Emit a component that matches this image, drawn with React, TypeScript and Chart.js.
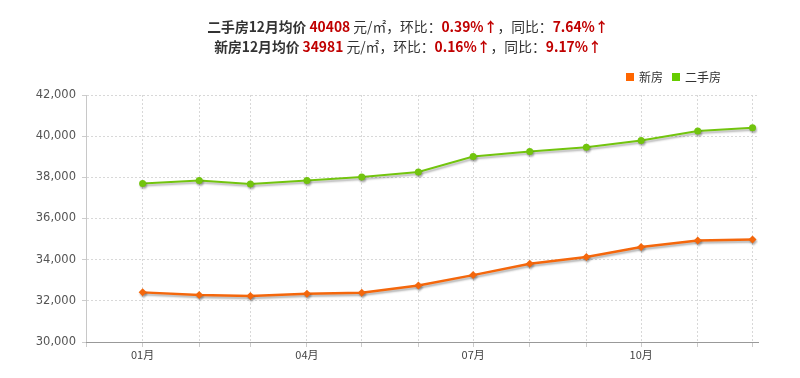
import React, { useEffect, useRef } from "react";
import { Chart, registerables } from "chart.js";

Chart.register(...registerables);

const months = ["2017-01", "2017-02", "2017-03", "2017-04", "2017-05", "2017-06", "2017-07", "2017-08", "2017-09", "2017-10", "2017-11", "2017-12"];
const newHouse = [32411, 32281, 32232, 32345, 32394, 32750, 33250, 33800, 34125, 34610, 34933, 34981];
const secondHand = [37700, 37846, 37681, 37846, 38021, 38264, 39011, 39254, 39462, 39787, 40254, 40408];
const seriesNames = ["新房", "二手房"];
const yTicks = [30000, 32000, 34000, 36000, 38000, 40000, 42000];
const labeledMonths = ["01", "04", "07", "10"];
const axisStart = "2016-12";
const axisEndDay = "2017-12-04";

const DAY = 86400000;
const base = Date.UTC(2017, 0, 1);
const toDay = (s: string) => {
  const p = s.split("-").map(Number);
  return (Date.UTC(p[0], p[1] - 1, p[2] || 1) - base) / DAY;
};

const ORANGE = "#f4670c";
const GREEN = "#72c40e";

export default function App() {
  const ref = useRef<HTMLCanvasElement>(null);
  useEffect(() => {
    document.body.style.margin = "0";
    const canvas = ref.current!;
    const tickMonths = [axisStart, ...months];
    const shadow = {
      id: "lineShadow",
      beforeDatasetDraw(chart: any) {
        const c = chart.ctx;
        c.save();
        c.shadowColor = "rgba(0,0,0,0.3)";
        c.shadowBlur = 2;
        c.shadowOffsetX = 1;
        c.shadowOffsetY = 2;
      },
      afterDatasetDraw(chart: any) {
        chart.ctx.restore();
      },
    };
    const solidAxis = {
      id: "solidAxis",
      afterDraw(chart: any) {
        const c = chart.ctx;
        const a = chart.chartArea;
        c.save();
        c.setLineDash([]);
        c.strokeStyle = "#999";
        c.lineWidth = 1;
        c.beginPath();
        c.moveTo(a.left, Math.round(a.bottom) + 0.5);
        c.lineTo(a.right, Math.round(a.bottom) + 0.5);
        c.stroke();
        c.restore();
      },
    };
    const chart = new Chart(canvas, {
      type: "line",
      data: {
        datasets: [
          {
            label: seriesNames[0],
            data: months.map((m, i) => ({ x: toDay(m), y: newHouse[i] })),
            borderColor: ORANGE,
            backgroundColor: ORANGE,
            borderWidth: 2.5,
            pointStyle: "rectRot",
            pointRadius: 4,
            pointBorderWidth: 0,
            tension: 0,
          },
          {
            label: seriesNames[1],
            data: months.map((m, i) => ({ x: toDay(m), y: secondHand[i] })),
            borderColor: GREEN,
            backgroundColor: GREEN,
            borderWidth: 2,
            pointStyle: "circle",
            pointRadius: 3.5,
            pointBorderWidth: 0,
            tension: 0,
          },
        ],
      },
      options: {
        animation: false,
        responsive: false,
        layout: { padding: { top: 95, right: 42, left: 0, bottom: 0 } },
        plugins: { legend: { display: false }, tooltip: { enabled: false } },
        scales: {
          x: {
            type: "linear",
            min: toDay(axisStart),
            max: toDay(axisEndDay),
            afterBuildTicks(scale: any) {
              scale.ticks = tickMonths.map((m) => ({ value: toDay(m) }));
            },
            afterFit(scale: any) {
              scale.height = 36;
            },
            ticks: {
              autoSkip: false,
              maxRotation: 0,
              padding: 1,
              color: "#444",
              font: { size: 11, family: "'Noto Sans CJK SC', 'DejaVu Sans', sans-serif" },
              callback(_v: any, idx: number) {
                const m = tickMonths[idx];
                const mm = m.split("-")[1];
                return idx > 0 && labeledMonths.includes(mm) ? mm + "月" : "";
              },
            },
            grid: {
              color: "#d8d8d8",
              lineWidth: 1,
              tickLength: 5,
              tickColor: "#ccc",
              drawOnChartArea: true,
            },
            border: { color: "#999", width: 1, dash: [2, 2] },
          },
          y: {
            min: 30000,
            max: 42000,
            afterBuildTicks(scale: any) {
              scale.ticks = yTicks.map((v) => ({ value: v }));
            },
            afterFit(scale: any) {
              scale.width = 86;
            },
            ticks: {
              padding: 6,
              color: "#555",
              font: { size: 11.5, family: "'DejaVu Sans', sans-serif" },
              callback(v: any) {
                return Number(v).toLocaleString("en-US");
              },
            },
            grid: {
              color: "#d8d8d8",
              lineWidth: 1,
              tickLength: 4,
              tickColor: "#ccc",
            },
            border: { color: "#c8c8c8", width: 1, dash: [2, 2] },
          },
        },
      },
      plugins: [shadow, solidAxis],
    } as any);
    return () => chart.destroy();
  }, []);

  const red = { color: "#c00000", fontWeight: "bold" as const };
  const arrow = { color: "#c00000", fontWeight: "bold" as const };
  const titleFont = "'Noto Sans CJK SC', 'Microsoft YaHei', sans-serif";
  return (
    <div style={{ position: "relative", width: 800, height: 378, fontFamily: titleFont }}>
      <canvas ref={ref} width={800} height={378} style={{ display: "block" }} />
      <div style={{ position: "absolute", left: 0, top: 16, width: 816, textAlign: "center", fontSize: 13.8, lineHeight: "20px", color: "#333" }}>
        <div>
          <b>二手房12月均价</b> <span style={red}>40408</span> 元/㎡，环比：<span style={red}>0.39%</span><span style={arrow}>↑</span>，同比：<span style={red}>7.64%</span><span style={arrow}>↑</span>
        </div>
        <div>
          <b>新房12月均价</b> <span style={red}>34981</span> 元/㎡，环比：<span style={red}>0.16%</span><span style={arrow}>↑</span>，同比：<span style={red}>9.17%</span><span style={arrow}>↑</span>
        </div>
      </div>
      <div style={{ position: "absolute", left: 626, top: 68, fontSize: 12, color: "#333", display: "flex", alignItems: "center", whiteSpace: "nowrap" }}>
        <span style={{ display: "inline-block", width: 8, height: 8, background: "#ff6600", marginRight: 5 }} />
        <span style={{ marginRight: 9 }}>{seriesNames[0]}</span>
        <span style={{ display: "inline-block", width: 8, height: 8, background: "#66cc00", marginRight: 5 }} />
        <span>{seriesNames[1]}</span>
      </div>
    </div>
  );
}
